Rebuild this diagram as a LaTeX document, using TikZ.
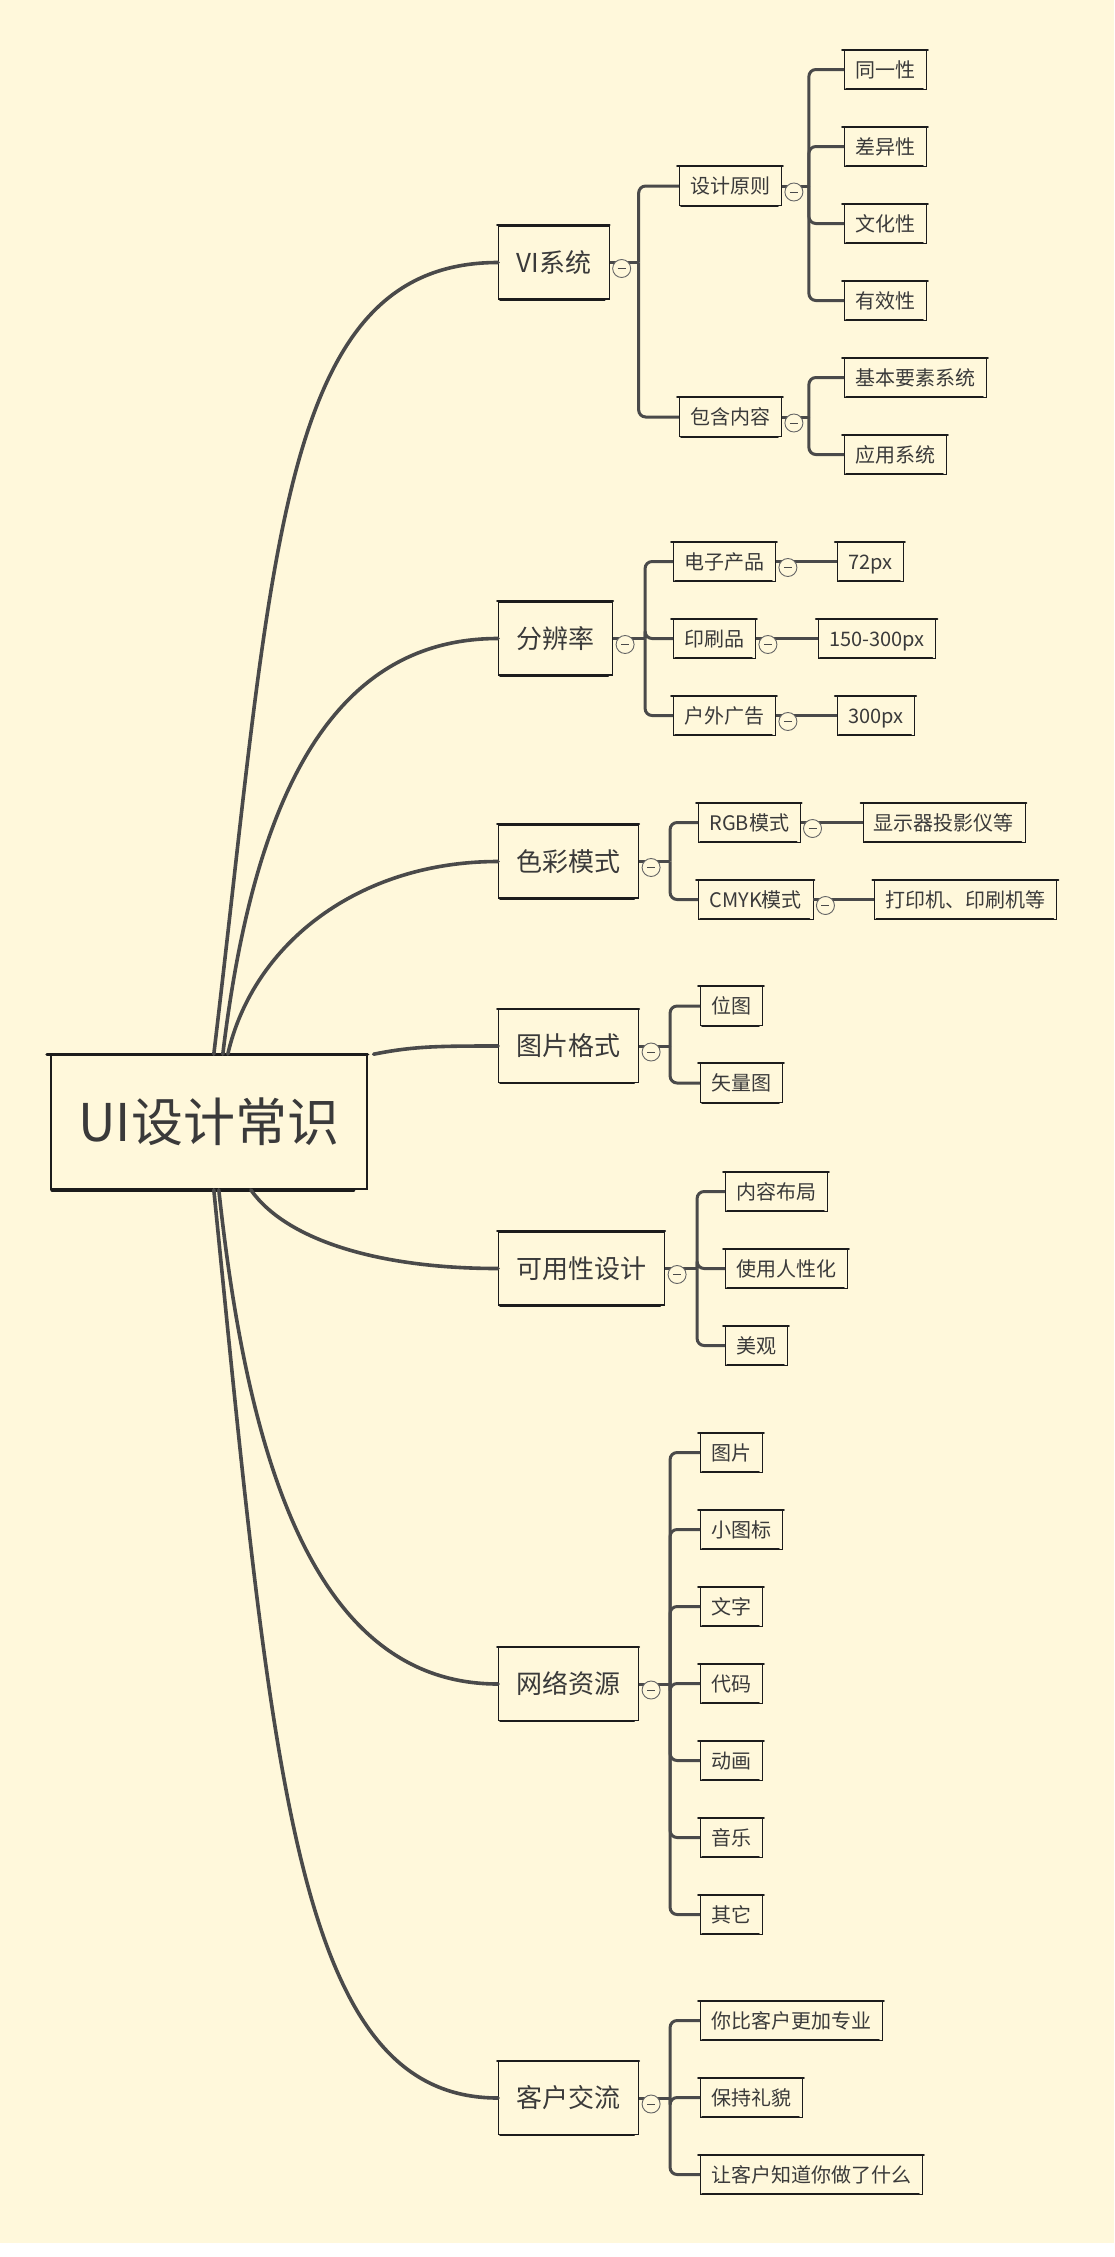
\documentclass[tikz,border=0pt]{standalone}
\usepackage{fontspec}
\newfontfamily\cjk{Noto Sans CJK SC}
\definecolor{paper}{RGB}{255,248,219}
\definecolor{linegray}{RGB}{74,74,74}
\definecolor{boxline}{RGB}{28,28,28}
\definecolor{txt}{RGB}{58,58,58}
\newcommand{\rootfont}{\cjk\fontsize{52pt}{60pt}\selectfont}
\newcommand{\topicfont}{\cjk\fontsize{26pt}{30pt}\selectfont}
\newcommand{\leaffont}{\cjk\fontsize{20pt}{24pt}\selectfont}
% collapse marker right of a box
\newcommand{\foldmark}[1]{%
  \draw[fold] ([xshift=12pt,yshift=-6pt]#1.east) circle (9pt);
  \draw[foldbar] ([xshift=8pt,yshift=-6pt]#1.east) -- ([xshift=16pt,yshift=-6pt]#1.east);
}
\tikzset{
  sketchedge/.style={draw=boxline, line width=#1, line cap=round},
  rootbox/.style={draw=boxline, line width=1.6pt, anchor=west, inner sep=0pt,
    minimum width=316pt, minimum height=134pt, text height=42.6pt, text depth=3.1pt,
    text=txt, font=\rootfont,
    append after command={
      (\tikzlastnode.north west) edge[sketchedge=3.4pt, shorten <=-3pt] (\tikzlastnode.north east)
      (\tikzlastnode.south west) edge[sketchedge=3.4pt, shorten <=2pt, shorten >=14pt] (\tikzlastnode.south east)}},
  topicbox/.style={draw=boxline, line width=1.1pt, anchor=west, inner xsep=18pt, inner ysep=0pt,
    minimum height=73pt, text height=21.3pt, text depth=1.6pt, text=txt, font=\topicfont,
    append after command={
      (\tikzlastnode.north west) edge[sketchedge=2pt, shorten <=-1pt] (\tikzlastnode.north east)
      (\tikzlastnode.south west) edge[sketchedge=2pt, shorten <=2pt, shorten >=5pt] (\tikzlastnode.south east)}},
  leafbox/.style={draw=boxline, line width=0.9pt, anchor=west, inner xsep=11pt, inner ysep=0pt,
    minimum height=39pt, text height=16.4pt, text depth=1.2pt, text=txt, font=\leaffont,
    append after command={
      (\tikzlastnode.north west) edge[sketchedge=2pt, shorten <=-2pt, shorten >=-1pt] (\tikzlastnode.north east)
      (\tikzlastnode.south west) edge[sketchedge=2pt, shorten <=2pt, shorten >=4pt] (\tikzlastnode.south east)}},
  trunk/.style={draw=linegray, line width=3.6pt, line cap=round},
  branch/.style={draw=linegray, line width=3pt, rounded corners=7pt},
  fold/.style={draw=linegray!85, fill=paper, line width=0.9pt},
  foldbar/.style={draw=linegray, line width=1pt},
}
\begin{document}
\begin{tikzpicture}[x=1pt,y=-1pt]
\useasboundingbox (0,0) rectangle (1114,2257);
\fill[white] (0,0) rectangle (1114,2257);
\fill[paper] (0,0) rectangle (1114,2243);

% root and main topics
\node[rootbox] (root) at (50,1122) {UI设计常识};
\node[topicbox] (vi) at (498,262.5) {VI系统};
\node[topicbox] (fbl) at (498,638.5) {分辨率};
\node[topicbox] (sc) at (498,861.5) {色彩模式};
\node[topicbox] (tp) at (498,1046) {图片格式};
\node[topicbox] (ky) at (498,1268.5) {可用性设计};
\node[topicbox] (wl) at (498,1684) {网络资源};
\node[topicbox] (kh) at (498,2098) {客户交流};

\draw[trunk] ([xshift=5pt]root.north) .. controls +(60,-500) and +(-220,0) .. (vi.west);
\draw[trunk] ([xshift=14pt]root.north) .. controls +(30,-250) and +(-170,0) .. (fbl.west);
\draw[trunk] ([xshift=19pt]root.north) .. controls +(25,-110) and +(-140,0) .. (sc.west);
\draw[trunk] ([xshift=6pt]root.north east) .. controls +(40,-8) and +(-60,0) .. (tp.west);
\draw[trunk] ([xshift=42pt]root.south) .. controls +(35,50) and +(-120,0) .. (ky.west);
\draw[trunk] ([xshift=10pt]root.south) .. controls +(30,280) and +(-180,0) .. (wl.west);
\draw[trunk] ([xshift=5pt]root.south) .. controls +(60,600) and +(-200,0) .. (kh.west);

% VI系统
\coordinate (vi-j) at ([xshift=29pt]vi.east);
\draw[branch] (vi.east) -- (vi-j);
\node[leafbox] (sj) at (679,186) {设计原则};
\node[leafbox] (bh) at (679,417) {包含内容};
\draw[branch] (vi-j) |- (sj.west);
\draw[branch] (vi-j) |- (bh.west);
\coordinate (sj-j) at ([xshift=27pt]sj.east);
\draw[branch] (sj.east) -- (sj-j);
\foreach \t [count=\i] in {同一性,差异性,文化性,有效性}{
  \node[leafbox] (sj\i) at (844,{69.5+77*(\i-1)}) {\t};
  \draw[branch] (sj-j) |- (sj\i.west);
}
\coordinate (bh-j) at ([xshift=27pt]bh.east);
\draw[branch] (bh.east) -- (bh-j);
\foreach \t [count=\i] in {基本要素系统,应用系统}{
  \node[leafbox] (bh\i) at (844,{377.5+77*(\i-1)}) {\t};
  \draw[branch] (bh-j) |- (bh\i.west);
}

% 分辨率
\coordinate (fbl-j) at ([xshift=32pt]fbl.east);
\draw[branch] (fbl.east) -- (fbl-j);
\node[leafbox] (dz) at (673,561.5) {电子产品};
\node[leafbox] (ys) at (673,638.5) {印刷品};
\node[leafbox] (hw) at (673,715.5) {户外广告};
\foreach \n in {dz,ys,hw} \draw[branch] (fbl-j) |- (\n.west);
\node[leafbox] (dzv) at ([xshift=61pt]dz.east) {72px};
\node[leafbox] (ysv) at ([xshift=62pt]ys.east) {150-300px};
\node[leafbox] (hwv) at ([xshift=61pt]hw.east) {300px};
\draw[branch] (dz.east) -- (dzv.west);
\draw[branch] (ys.east) -- (ysv.west);
\draw[branch] (hw.east) -- (hwv.west);

% 色彩模式
\coordinate (sc-j) at ([xshift=31pt]sc.east);
\draw[branch] (sc.east) -- (sc-j);
\node[leafbox] (rgb) at (698,822.5) {RGB模式};
\node[leafbox] (cmyk) at (698,899.5) {CMYK模式};
\draw[branch] (sc-j) |- (rgb.west);
\draw[branch] (sc-j) |- (cmyk.west);
\node[leafbox] (rgbv) at ([xshift=62pt]rgb.east) {显示器投影仪等};
\node[leafbox] (cmykv) at ([xshift=61pt]cmyk.east) {打印机、印刷机等};
\draw[branch] (rgb.east) -- (rgbv.west);
\draw[branch] (cmyk.east) -- (cmykv.west);

% 图片格式
\coordinate (tp-j) at ([xshift=31pt]tp.east);
\draw[branch] (tp.east) -- (tp-j);
\node[leafbox] (wt) at (700,1006) {位图};
\node[leafbox] (sl) at (700,1083) {矢量图};
\draw[branch] (tp-j) |- (wt.west);
\draw[branch] (tp-j) |- (sl.west);

% 可用性设计
\coordinate (ky-j) at ([xshift=32pt]ky.east);
\draw[branch] (ky.east) -- (ky-j);
\foreach \t [count=\i] in {内容布局,使用人性化,美观}{
  \node[leafbox] (ky\i) at (725,{1191.5+77*(\i-1)}) {\t};
  \draw[branch] (ky-j) |- (ky\i.west);
}

% 网络资源
\coordinate (wl-j) at ([xshift=31pt]wl.east);
\draw[branch] (wl.east) -- (wl-j);
\foreach \t [count=\i] in {图片,小图标,文字,代码,动画,音乐,其它}{
  \node[leafbox] (wl\i) at (700,{1452.5+77*(\i-1)}) {\t};
  \draw[branch] (wl-j) |- (wl\i.west);
}

% 客户交流
\coordinate (kh-j) at ([xshift=31pt]kh.east);
\draw[branch] (kh.east) -- (kh-j);
\foreach \t [count=\i] in {你比客户更加专业,保持礼貌,让客户知道你做了什么}{
  \node[leafbox] (kh\i) at (700,{2020.5+77*(\i-1)}) {\t};
  \draw[branch] (kh-j) |- (kh\i.west);
}

% collapse markers
\foreach \n in {vi,sj,bh,fbl,dz,ys,hw,sc,rgb,cmyk,tp,ky,wl,kh}{\foldmark{\n}}
\end{tikzpicture}
\end{document}
